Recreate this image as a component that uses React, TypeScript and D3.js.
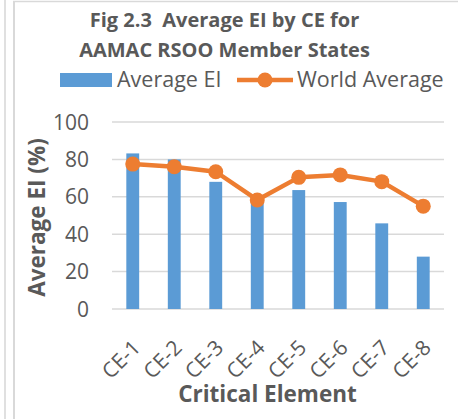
import React from "react";
import * as d3 from "d3";

const categories = ["CE-1", "CE-2", "CE-3", "CE-4", "CE-5", "CE-6", "CE-7", "CE-8"];
const averageEI = [83.2, 80.0, 68.0, 58.0, 63.6, 57.2, 45.8, 28.0];
const worldAverage = [77.5, 76.1, 73.4, 58.3, 70.4, 71.7, 68.1, 55.0];
const yTicks = [0, 20, 40, 60, 80, 100];
const titleLines = ["Fig 2.3  Average EI by CE for", "AAMAC RSOO Member States"];

const W = 458;
const H = 419;
const FONT = "'Open Sans', sans-serif";
const TEXT = "#595959";
const BLUE = "#5B9BD5";
const ORANGE = "#ED7D31";
const GRID = "#D9D9D9";

export default function App() {
  const x = d3.scaleBand<string>().domain(categories).range([112, 444]).paddingInner(0.69).paddingOuter(0.345);
  const y = d3.scaleLinear().domain([0, 100]).range([309, 122]);
  const cx = (c: string) => (x(c) as number) + x.bandwidth() / 2;
  const line = d3
    .line<number>()
    .x((_, i) => cx(categories[i]))
    .y((d) => y(d));

  return (
    <svg
      width={W}
      height={H}
      style={{ position: "absolute", left: 0, top: 0, background: "#fff" }}
      fontFamily={FONT}
    >
      <rect x={0} y={0} width={W} height={H} fill="#fff" />
      {/* frame lines */}
      <line x1={5} x2={5} y1={0} y2={H} stroke="#E0E0E0" strokeWidth={2} />
      <line x1={14} x2={14} y1={1} y2={H} stroke="#D9D9D9" strokeWidth={2} />
      <line x1={13} x2={W} y1={1.5} y2={1.5} stroke="#D9D9D9" strokeWidth={1.5} />

      {/* title */}
      {titleLines.map((t, i) => (
        <text key={i} x={224.5} y={27 + i * 30} textAnchor="middle" fontWeight="bold" fontSize={20} fill={TEXT} style={{ whiteSpace: "pre" }}>
          {t}
        </text>
      ))}

      {/* legend */}
      <rect x={60} y={73} width={52} height={14} fill={BLUE} />
      <text x={117} y={87} fontSize={21.5} fill={TEXT}>Average EI</text>
      <line x1={237} x2={293} y1={80} y2={80} stroke={ORANGE} strokeWidth={4.5} />
      <circle cx={265} cy={80} r={7.5} fill={ORANGE} />
      <text x={297} y={87} fontSize={21.5} fill={TEXT}>World Average</text>

      {/* gridlines & y ticks */}
      {yTicks.map((t) => (
        <g key={t}>
          <line x1={112} x2={444} y1={y(t)} y2={y(t)} stroke={GRID} strokeWidth={1.5} />
          <text x={89} y={y(t)} dy="0.36em" textAnchor="end" fontSize={21} fill={TEXT}>
            {t}
          </text>
        </g>
      ))}

      {/* bars */}
      {categories.map((c, i) => (
        <rect key={c} x={x(c)} y={y(averageEI[i])} width={x.bandwidth()} height={y(0) - y(averageEI[i])} fill={BLUE} />
      ))}

      {/* world average line */}
      <path d={line(worldAverage) || ""} fill="none" stroke={ORANGE} strokeWidth={4.5} strokeLinejoin="round" />
      {worldAverage.map((v, i) => (
        <circle key={i} cx={cx(categories[i])} cy={y(v)} r={7.5} fill={ORANGE} />
      ))}

      {/* x tick labels */}
      {categories.map((c) => (
        <text
          key={c}
          transform={`translate(${cx(c) + 9},${349}) rotate(-45)`}
          textAnchor="end"
          fontSize={21}
          fill={TEXT}
        >
          {c}
        </text>
      ))}

      {/* axis titles */}
      <text
        transform={`translate(45,217.5) rotate(-90)`}
        textAnchor="middle"
        fontWeight="bold"
        fontSize={22.5}
        fill={TEXT}
      >
        Average EI (%)
      </text>
      <text x={267.5} y={401.5} textAnchor="middle" fontWeight="bold" fontSize={22.5} fill={TEXT}>
        Critical Element
      </text>
    </svg>
  );
}
